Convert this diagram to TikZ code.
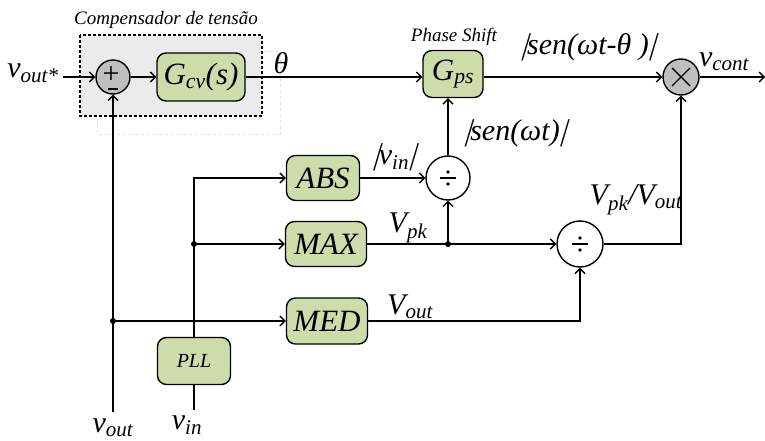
\documentclass[tikz,border=0pt]{standalone}
\usepackage{fontspec}
\setmainfont{LiberationSerif}[Extension=.ttf, UprightFont=*-Regular, ItalicFont=*-Italic, BoldFont=*-Bold, BoldItalicFont=*-BoldItalic]
\newfontfamily\slantbar{LiberationSerif}[Extension=.ttf, UprightFont=*-Regular, FakeSlant=0.3]
\usetikzlibrary{arrows.meta}
\definecolor{boxg}{HTML}{CDDCAB}
\definecolor{circg}{HTML}{BFBFBF}
\definecolor{compfill}{HTML}{EBEBEB}
\newcommand{\absb}{{\slantbar|}}
\begin{document}
\begin{tikzpicture}[x=1pt,y=-1pt,
  blk/.style={draw, line width=1.4pt, fill=boxg, rounded corners=9pt, inner sep=0pt,
    font=\itshape\fontsize{31}{31}\selectfont},
  circ/.style={circle, draw, line width=1.4pt, inner sep=0pt},
  conn/.style={line width=1.4pt, -{Straight Barb[length=5pt,width=10pt]}},
  wire/.style={line width=1.4pt},
  lbl/.style={inner sep=0pt, font=\itshape\fontsize{30}{30}\selectfont},
  small/.style={inner sep=0pt, font=\itshape\fontsize{19}{19}\selectfont},
  dot/.style={circle, fill=black, inner sep=0pt, minimum size=6pt}]
\useasboundingbox (0,0) rectangle (765,441);
% compensator frame
\draw[black!12, dashed, line width=1pt] (97,52) rectangle (280,134);
\draw[fill=compfill, line width=1.3pt, dash pattern=on 3pt off 2pt] (80,35) rectangle (262,116);
\node[small] (lcomp) at (166,20) {Compensador de tensão};
% blocks
\node[circ, fill=circg, minimum size=34pt] (sum) at (113,77) {};
\node[inner sep=0pt, font=\fontsize{30}{30}\selectfont] (plus) at (111,75) {+};
\draw[line width=1.6pt] (108,89) -- (118,89);
\node[blk, minimum width=88pt, minimum height=48pt] (gcv) at (201,77) {G\textsubscript{cv}(s)};
\node[blk, minimum width=60pt, minimum height=47pt] (gps) at (453,74) {G\textsubscript{ps}};
\node[circ, fill=circg, minimum size=36pt] (mult) at (681,77) {};
\draw[line width=1.4pt] ([shift={(-9,-9)}]mult.center) -- ([shift={(9,9)}]mult.center)
  ([shift={(-9,9)}]mult.center) -- ([shift={(9,-9)}]mult.center);
\node[blk, minimum width=73pt, minimum height=45pt] (abs) at (323,178) {ABS};
\node[blk, minimum width=81pt, minimum height=45pt] (max) at (326,244) {MAX};
\node[blk, minimum width=81pt, minimum height=46pt] (med) at (327,321) {MED};
\node[blk, minimum width=73pt, minimum height=47pt, font=\itshape\fontsize{20}{20}\selectfont] (pll) at (194,361) {PLL};
\node[circ, fill=white, minimum size=44pt] (div1) at (448,178) {};
\node[circ, fill=white, minimum size=46pt] (div2) at (580,244) {};
\foreach \d in {div1,div2}{
  \draw[line width=1.4pt] ([xshift=-8pt]\d.center) -- ([xshift=8pt]\d.center);
  \fill ([yshift=6pt]\d.center) circle (1.8pt);
  \fill ([yshift=-6pt]\d.center) circle (1.8pt);
}
% coordinates
\coordinate (vsin) at (63,77);
\coordinate (vend) at (765,77);
\coordinate (voutb) at (113,412);
\coordinate (vinb) at (194,410);
\coordinate (j1) at (div1 |- max);
\coordinate (j2) at (voutb |- med);
\coordinate (j3) at (pll |- max);
% connectors
\draw[conn] (vsin) -- (sum.west);
\draw[conn] (sum.east) -- (gcv.west);
\draw[conn] (gcv.east) -- (gcv.east -| gps.west);
\draw[conn] (gps.east |- mult) -- (mult.west);
\draw[conn] (mult.east) -- (vend);
\draw[conn] (div1.north) -- (div1.north |- gps.south);
\draw[conn] (abs.east) -- (div1.west);
\draw[wire] (max.east) -- (j1);
\draw[conn] (j1) -- (div2.west);
\draw[conn] (j1) -- (div1.south);
\draw[conn] (div2.east) -| (mult.south);
\draw[conn] (voutb) -- (sum.south);
\draw[conn] (j2) -- (med.west);
\draw[conn] (med.east) -| (div2.south);
\draw[wire] (vinb) -- (pll.south);
\draw[conn] (pll.north) |- (abs.west);
\draw[conn] (j3) -- (max.west);
\node[dot] (d1) at (j1) {};
\node[dot] (d2) at (j2) {};
\node[dot] (d3) at (j3) {};
% labels
\node[lbl] (lvs) at (33,73) {v\textsubscript{out*}};
\node[lbl] (lth) at (281,63) {θ};
\node[small] (lps) at (454,37) {Phase Shift};
\node[lbl] (lsen1) at (588,47) {\absb sen(ωt-θ )\absb};
\node[lbl] (lcont) at (724,62) {v\textsubscript{cont}};
\node[lbl] (lvin) at (394,157) {\absb v\textsubscript{in}\absb};
\node[lbl] (lsen2) at (515,133) {\absb sen(ωt)\absb};
\node[lbl] (lvpk) at (408,228) {V\textsubscript{pk}};
\node[lbl] (lratio) at (636,200) {V\textsubscript{pk}/V\textsubscript{out}};
\node[lbl] (lvo) at (410,307) {V\textsubscript{out}};
\node[lbl] (lvoutb) at (113,428) {v\textsubscript{out}};
\node[lbl] (lvinb) at (187,425) {v\textsubscript{in}};
\end{tikzpicture}
\end{document}
